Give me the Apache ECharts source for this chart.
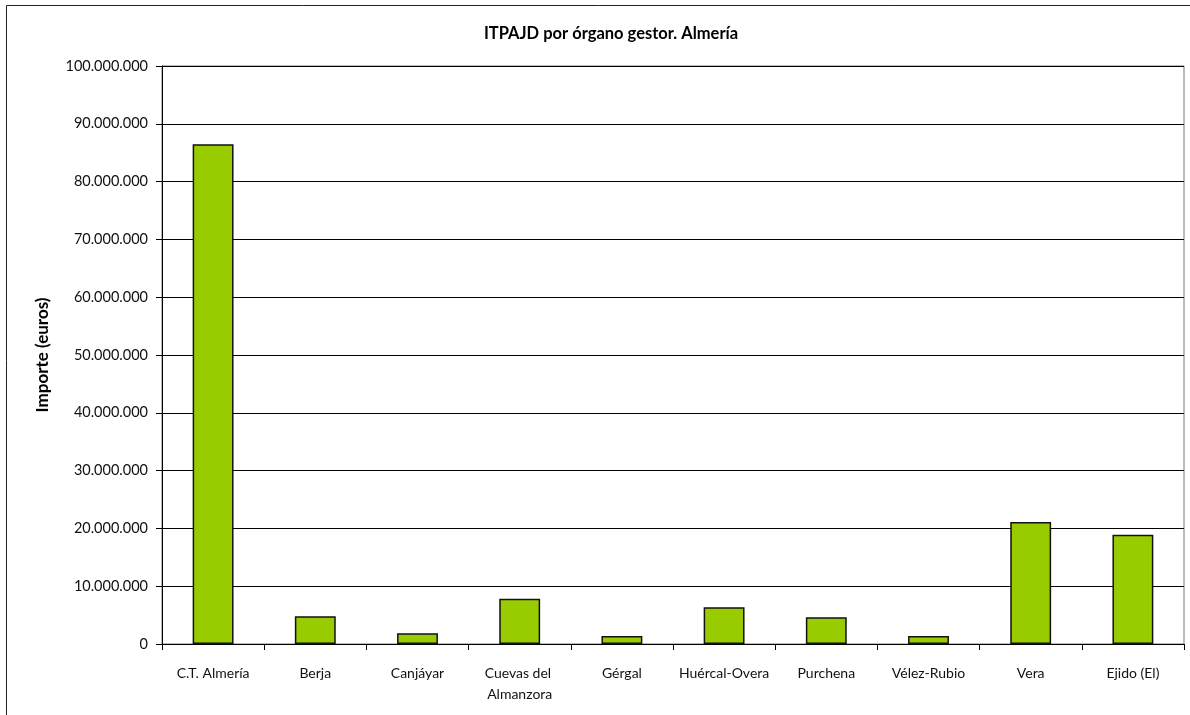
<!DOCTYPE html>
<html>
<head>
<meta charset="utf-8">
<script src="https://cdn.jsdelivr.net/npm/echarts@6/dist/echarts.min.js"></script>
<style>
  html, body { margin: 0; padding: 0; background: #fff; }
  #chart { width: 1190px; height: 715px; }
</style>
</head>
<body>
<div id="chart"></div>
<script>
// data
const categories = ['C.T. Almería', 'Berja', 'Canjáyar', 'Cuevas del Almanzora', 'Gérgal',
  'Huércal-Overa', 'Purchena', 'Vélez-Rubio', 'Vera', 'Ejido (El)']
const importe = [86450000, 4790000, 1850000, 7840000, 1380000,
  6350000, 4620000, 1380000, 21100000, 18900000]
const yTicks = { min: 0, max: 100000000, interval: 10000000 }

const font = 'Lato, "Liberation Sans", sans-serif'

function miles(v) {
  return String(Math.round(v)).replace(/\B(?=(\d{3})+(?!\d))/g, '.')
}

const chart = echarts.init(document.getElementById('chart'), null, { renderer: 'canvas' })

chart.setOption({
  animation: false,
  backgroundColor: '#fff',
  title: {
    text: 'ITPAJD por órgano gestor. Almería',
    left: 606,
    top: 20,
    textAlign: 'center',
    textStyle: { fontFamily: font, fontSize: 16.5, fontWeight: 'bold', color: '#000' }
  },
  graphic: [
    {
      type: 'rect',
      shape: { x: 6.5, y: 5.5, width: 1200, height: 720 },
      style: { fill: 'none', stroke: '#222', lineWidth: 1 },
      silent: true
    }
  ],
  grid: {
    left: 162,
    right: 6,
    top: 66,
    bottom: 71,
    show: true,
    borderColor: '#777',
    borderWidth: 1
  },
  xAxis: {
    type: 'category',
    data: categories,
    axisLine: { lineStyle: { color: '#000', width: 1 } },
    axisTick: { show: true, alignWithLabel: false, length: 6, lineStyle: { color: '#000' } },
    axisLabel: {
      interval: 0,
      margin: 19,
      width: 100,
      overflow: 'break',
      lineHeight: 21,
      fontFamily: font,
      fontSize: 14,
      color: '#111'
    }
  },
  yAxis: {
    type: 'value',
    min: yTicks.min,
    max: yTicks.max,
    interval: yTicks.interval,
    name: 'Importe (euros)',
    nameLocation: 'middle',
    nameGap: 111,
    nameTextStyle: { fontFamily: font, fontSize: 17, fontWeight: 'bold', color: '#000' },
    axisLine: { show: true, lineStyle: { color: '#000', width: 1 } },
    axisTick: { show: true, length: 6, lineStyle: { color: '#000' } },
    axisLabel: {
      margin: 14,
      fontFamily: font,
      fontSize: 14.5,
      color: '#111',
      formatter: miles
    },
    splitLine: { show: true, lineStyle: { color: '#000', width: 1 } }
  },
  series: [
    {
      type: 'bar',
      data: importe,
      barWidth: '40%',
      itemStyle: { color: '#99CC00', borderColor: '#111', borderWidth: 1.5 }
    }
  ]
})
</script>
</body>
</html>
